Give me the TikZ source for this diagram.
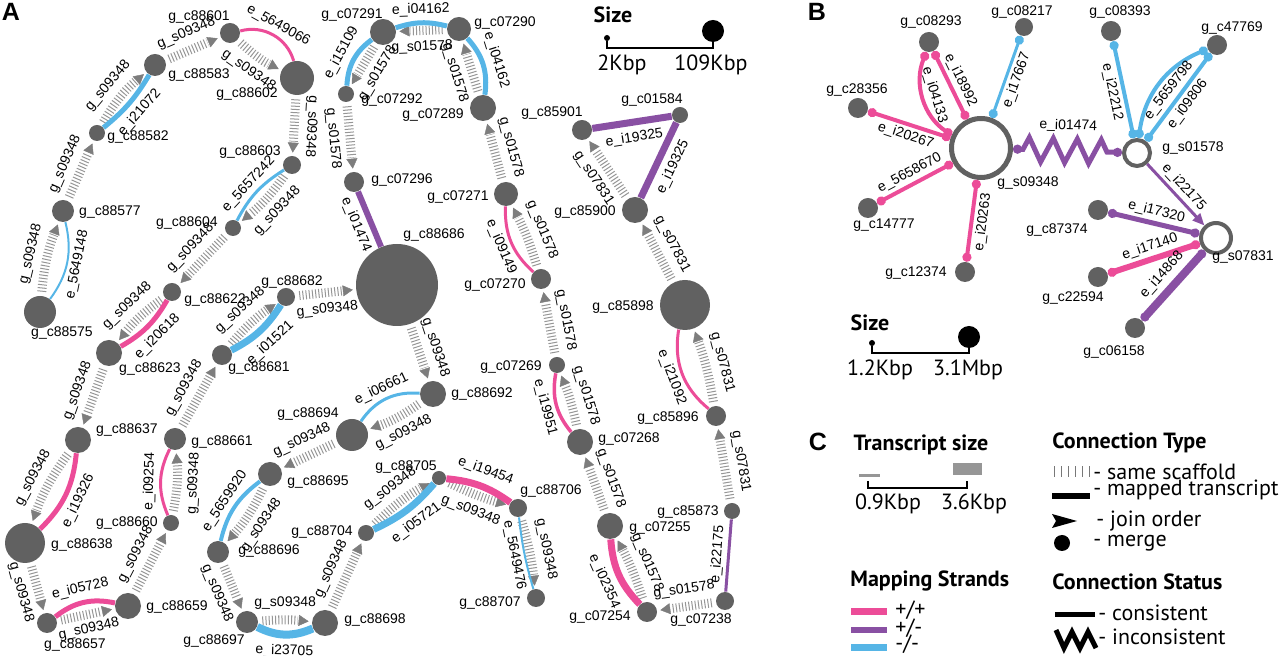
\documentclass[tikz,border=0pt]{standalone}
\usepackage{fontspec}
\setmainfont{Liberation Sans}
\newfontfamily\legfont{PT Sans}
\usetikzlibrary{arrows.meta,decorations.markings,decorations.pathmorphing}
\definecolor{nodegray}{RGB}{97,97,97}
\definecolor{hatchgray}{RGB}{150,150,150}
\definecolor{tipgray}{RGB}{125,125,125}
\definecolor{pinkc}{RGB}{236,76,152}
\definecolor{purplec}{RGB}{137,80,163}
\definecolor{bluec}{RGB}{86,181,230}
\tikzset{
  gn/.style={circle,fill=nodegray,inner sep=0pt,minimum size=#1},
  hn/.style={circle,draw=nodegray,fill=white,inner sep=0pt,minimum size=#1},
  lab/.style={font=\fontsize{7}{8}\selectfont,inner sep=0pt},
  scaf/.style={draw=hatchgray,line width=4.5pt,dash pattern=on 0.5pt off 1.1pt,shorten <=2pt,shorten >=7pt,
    postaction={decorate,decoration={markings,mark=at position -1.5pt with {\arrow[tipgray,solid,line width=0.2pt]{Triangle[length=5pt,width=5.5pt]}}}}},
  sa/.style={lab,sloped,above=3pt},
  sb/.style={lab,sloped,below=3pt},
  ta/.style={lab,sloped,above=#1}, ta/.default=1.5pt,
  tb/.style={lab,sloped,below=#1}, tb/.default=1.5pt,
  pk/.style={draw=pinkc},
  pu/.style={draw=purplec},
  bl/.style={draw=bluec},
  mg/.style={arrows={Circle[length=4.5pt]-Circle[length=4.5pt]}},
  leg/.style={font=\legfont\fontsize{11}{12}\selectfont,inner sep=0pt},
  legb/.style={font=\legfont\bfseries\fontsize{11}{12}\selectfont,inner sep=0pt},
  letter/.style={font=\bfseries\fontsize{12.5}{13}\selectfont,inner sep=0pt}
}
\begin{document}
\begin{tikzpicture}[x=0.5pt,y=-0.5pt]
\useasboundingbox (0,0) rectangle (1280,656);
\node[letter] at (11,12) (pA) {A};
\node[letter] at (817,12) (pB) {B};
\node[letter] at (818,442) (pC) {C};

% panel A, scaffold g_s09348
\node[gn=10pt] at (230,33) (c88601) {};
\node[gn=11pt] at (155,65) (c88583) {};
\node[gn=17pt] at (297,78) (c88602) {};
\node[gn=8pt] at (97,133) (c88582) {};
\node[gn=9pt] at (292,165) (c88603) {};
\node[gn=11pt] at (63,211) (c88577) {};
\node[gn=8pt] at (233,228) (c88604) {};
\node[gn=16pt] at (40,312) (c88575) {};
\node[gn=9pt] at (172,292) (c88622) {};
\node[gn=9pt] at (286,297) (c88682) {};
\node[gn=41pt] at (397,285) (c88686) {};
\node[gn=13pt] at (109,353) (c88623) {};
\node[gn=10pt] at (222,355) (c88681) {};
\node[gn=13pt] at (78,440) (c88637) {};
\node[gn=11pt] at (175,439) (c88661) {};
\node[gn=13pt] at (433,394) (c88692) {};
\node[gn=16pt] at (352,435) (c88694) {};
\node[gn=12pt] at (270,474) (c88695) {};
\node[gn=8pt] at (171,523) (c88660) {};
\node[gn=20pt] at (25,543) (c88638) {};
\node[gn=11pt] at (218,552) (c88696) {};
\node[gn=7pt] at (439,478) (c88705) {};
\node[gn=9pt] at (518,508) (c88706) {};
\node[gn=8pt] at (366,533) (c88704) {};
\node[gn=10pt] at (47,623) (c88657) {};
\node[gn=13pt] at (128,606) (c88659) {};
\node[gn=11pt] at (247,622) (c88697) {};
\node[gn=13pt] at (325,623) (c88698) {};
\node[gn=9pt] at (536,598) (c88707) {};

% panel A, scaffolds g_s01578 and g_s07831
\node[gn=13pt] at (383,32) (c07291) {};
\node[gn=12pt] at (459,29) (c07290) {};
\node[gn=8pt] at (346,94) (c07292) {};
\node[gn=13pt] at (483,108) (c07289) {};
\node[gn=10pt] at (354,182) (c07296) {};
\node[gn=12pt] at (506,194) (c07271) {};
\node[gn=10pt] at (541,279) (c07270) {};
\node[gn=8pt] at (557,365) (c07269) {};
\node[gn=13pt] at (580,442) (c07268) {};
\node[gn=13pt] at (610,526) (c07255) {};
\node[gn=10pt] at (647,612) (c07254) {};
\node[gn=9pt] at (725,601) (c07238) {};
\node[gn=10pt] at (582,130) (c85901) {};
\node[gn=8pt] at (680,115) (c01584) {};
\node[gn=13pt] at (635,210) (c85900) {};
\node[gn=25pt] at (685,305) (c85898) {};
\node[gn=10pt] at (716,416) (c85896) {};
\node[gn=8pt] at (732,511) (c85873) {};

\node[lab] at (199,17) (l88601) {g\_c88601};
\node[lab] at (199,75) (l88583) {g\_c88583};
\node[lab] at (247,94) (l88602) {g\_c88602};
\node[lab] at (138,137) (l88582) {g\_c88582};
\node[lab] at (250,152) (l88603) {g\_c88603};
\node[lab] at (110,212) (l88577) {g\_c88577};
\node[lab] at (187,223) (l88604) {g\_c88604};
\node[lab] at (62,333) (l88575) {g\_c88575};
\node[lab] at (215,300) (l88622) {g\_c88622};
\node[lab] at (292,282) (l88682) {g\_c88682};
\node[lab] at (434,235) (l88686) {g\_c88686};
\node[lab] at (150,369) (l88623) {g\_c88623};
\node[lab] at (259,368) (l88681) {g\_c88681};
\node[lab] at (127,430) (l88637) {g\_c88637};
\node[lab] at (222,442) (l88661) {g\_c88661};
\node[lab] at (482,394) (l88692) {g\_c88692};
\node[lab] at (308,414) (l88694) {g\_c88694};
\node[lab] at (318,482) (l88695) {g\_c88695};
\node[lab] at (127,523) (l88660) {g\_c88660};
\node[lab] at (82,545) (l88638) {g\_c88638};
\node[lab] at (269,551) (l88696) {g\_c88696};
\node[lab] at (406,467) (l88705) {g\_c88705};
\node[lab] at (551,491) (l88706) {g\_c88706};
\node[lab] at (322,532) (l88704) {g\_c88704};
\node[lab] at (75,645) (l88657) {g\_c88657};
\node[lab] at (177,607) (l88659) {g\_c88659};
\node[lab] at (214,641) (l88697) {g\_c88697};
\node[lab] at (375,620) (l88698) {g\_c88698};
\node[lab] at (490,603) (l88707) {g\_c88707};
\node[lab] at (352,15) (l07291) {g\_c07291};
\node[lab] at (505,23) (l07290) {g\_c07290};
\node[lab] at (392,100) (l07292) {g\_c07292};
\node[lab] at (433,115) (l07289) {g\_c07289};
\node[lab] at (402,180) (l07296) {g\_c07296};
\node[lab] at (458,197) (l07271) {g\_c07271};
\node[lab] at (495,285) (l07270) {g\_c07270};
\node[lab] at (511,367) (l07269) {g\_c07269};
\node[lab] at (629,439) (l07268) {g\_c07268};
\node[lab] at (660,528) (l07255) {g\_c07255};
\node[lab] at (600,617) (l07254) {g\_c07254};
\node[lab] at (701,620) (l07238) {g\_c07238};
\node[lab] at (552,113) (l85901) {g\_c85901};
\node[lab] at (652,100) (l01584) {g\_c01584};
\node[lab] at (585,212) (l85900) {g\_c85900};
\node[lab] at (623,307) (l85898) {g\_c85898};
\node[lab] at (668,418) (l85896) {g\_c85896};
\node[lab] at (688,512) (l85873) {g\_c85873};

\draw[scaf] (c88575) to[bend left=8] node[sa]{g\_s09348} (c88577);
\draw[bl,line width=1pt] (c88575) to[bend right=25] node[tb]{e\_5649148} (c88577);
\draw[scaf] (c88577) -- node[sa]{g\_s09348} (c88582);
\draw[scaf] (c88582) to[bend left=10] node[sa]{g\_s09348} (c88583);
\draw[bl,line width=2.5pt] (c88582) to[bend right=10] node[tb=2.5pt]{e\_i21072} (c88583);
\draw[scaf] (c88583) -- node[sa]{g\_s09348} (c88601);
\draw[scaf] (c88601) to[bend right=8] node[sb]{g\_s09348} (c88602);
\draw[pk,line width=1.5pt] (c88601) to[bend left=45] node[ta]{e\_5649066} (c88602);
\draw[scaf] (c88602) -- node[sa,allow upside down]{g\_s09348} (c88603);
\draw[scaf] (c88603) to[bend left=8] node[sb]{g\_s09348} (c88604);
\draw[bl,line width=1.5pt] (c88603) to[bend right=15] node[ta]{e\_5657242} (c88604);
\draw[scaf] (c88604) -- node[sa]{g\_s09348} (c88622);
\draw[scaf] (c88622) to[bend right=8] node[sa]{g\_s09348} (c88623);
\draw[pk,line width=2.5pt] (c88622) to[bend left=15] node[tb=2.5pt]{e\_i20618} (c88623);
\draw[scaf] (c88623) -- node[sa]{g\_s09348} (c88637);
\draw[scaf] (c88637) to[bend right=8] node[sa]{g\_s09348} (c88638);
\draw[pk,line width=2.5pt] (c88637) to[bend left=20] node[tb=2.5pt]{e\_i19326} (c88638);
\draw[scaf] (c88638) -- node[sb]{g\_s09348} (c88657);
\draw[scaf] (c88657) -- node[lab,sloped,below=2pt]{g\_s09348} (c88659);
\draw[pk,line width=2.5pt] (c88657) to[bend left=25] node[ta=2.5pt]{e\_i05728} (c88659);
\draw[scaf] (c88659) -- node[sa]{g\_s09348} (c88660);
\draw[scaf] (c88660) to[bend right=8] node[sb]{g\_s09348} (c88661);
\draw[pk,line width=1.5pt] (c88660) to[bend left=25] node[ta]{e\_i09254} (c88661);
\draw[scaf] (c88661) -- node[sa]{g\_s09348} (c88681);
\draw[scaf] (c88681) to[bend left=8] node[sa]{g\_s09348} (c88682);
\draw[bl,line width=3.5pt] (c88681) to[bend right=15] node[tb=3pt]{e\_i01521} (c88682);
\draw[scaf] (c88682) -- node[sb]{g\_s09348} (c88686);
\draw[scaf] (c88686) -- node[sa]{g\_s09348} (c88692);
\draw[scaf] (c88692) to[bend left=8] node[sb]{g\_s09348} (c88694);
\draw[bl,line width=1.5pt] (c88692) to[bend right=30] node[ta]{e\_i06661} (c88694);
\draw[scaf] (c88694) -- node[sa]{g\_s09348} (c88695);
\draw[scaf] (c88695) to[bend left=8] node[sb]{g\_s09348} (c88696);
\draw[bl,line width=2pt] (c88695) to[bend right=20] node[ta]{e\_5659920} (c88696);
\draw[scaf] (c88696) -- node[sb]{g\_s09348} (c88697);
\draw[scaf] (c88697) to[bend left=5] node[sa]{g\_s09348} (c88698);
\draw[bl,line width=4pt] (c88697) to[bend right=25] node[tb=3pt]{e\_i23705} (c88698);
\draw[scaf] (c88698) -- node[sa]{g\_s09348} (c88704);
\draw[scaf] (c88704) to[bend left=8] node[sa]{g\_s09348} (c88705);
\draw[bl,line width=3.5pt] (c88704) to[bend right=12] node[tb=3pt]{e\_i05721} (c88705);
\draw[scaf] (c88705) to[bend right=5] node[sb]{g\_s09348} (c88706);
\draw[pk,line width=3.5pt] (c88705) to[bend left=15] node[ta=3pt]{e\_i19454} (c88706);
\draw[scaf] (c88706) to[bend left=5] node[sa]{g\_s09348} (c88707);
\draw[bl,line width=1pt] (c88706) to[bend right=5] node[tb]{e\_5649476} (c88707);

\draw[scaf] (c07290) -- node[sb]{g\_s01578} (c07291);
\draw[scaf] (c07291) -- node[sb]{g\_s01578} (c07292);
\draw[scaf] (c07292) -- node[sb]{g\_s01578} (c07296);
\draw[bl,line width=2.5pt] (c07292) to[bend left=25] node[ta=2.5pt]{e\_i15109} (c07291);
\draw[bl,line width=2.5pt] (c07291) to[bend left=16] node[ta=2pt]{e\_i04162} (c07290);
\draw[bl,line width=2.5pt] (c07290) to[bend left=25] node[ta=2.5pt]{e\_i04162} (c07289);
\draw[pu,line width=3pt] (c07296) -- node[tb=2.5pt]{e\_i01474} (c88686);
\draw[scaf] (c07289) -- node[sb]{g\_s01578} (c07290);
\draw[scaf] (c07271) -- node[sa]{g\_s01578} (c07289);
\draw[scaf] (c07270) to[bend right=5] node[sa]{g\_s01578} (c07271);
\draw[pk,line width=1.5pt] (c07270) to[bend left=25] node[tb]{e\_i09149} (c07271);
\draw[scaf] (c07269) -- node[sa]{g\_s01578} (c07270);
\draw[scaf] (c07268) to[bend right=5] node[sa]{g\_s01578} (c07269);
\draw[pk,line width=1.75pt] (c07268) to[bend left=25] node[tb]{e\_i19951} (c07269);
\draw[scaf] (c07255) -- node[sa]{g\_s01578} (c07268);
\draw[scaf] (c07254) to[bend right=5] node[sa]{g\_s01578} (c07255);
\draw[pk,line width=3.5pt] (c07254) to[bend left=20] node[tb=3pt]{e\_i02354} (c07255);
\draw[scaf] (c07238) -- node[sa]{g\_s01578} (c07254);
\draw[pu,line width=1.5pt] (c85873) -- node[ta]{e\_i22175} (c07238);

\draw[scaf] (c85873) -- node[sa]{g\_s07831} (c85896);
\draw[scaf] (c85896) to[bend right=5] node[sa]{g\_s07831} (c85898);
\draw[pk,line width=1.5pt] (c85896) to[bend left=30] node[tb]{e\_i21092} (c85898);
\draw[scaf] (c85898) -- node[sa]{g\_s07831} (c85900);
\draw[scaf] (c85900) -- node[sb]{g\_s07831} (c85901);
\draw[pu,line width=3.5pt] (c85901) -- node[tb=3pt]{e\_i19325} (c01584);
\draw[pu,line width=3.5pt] (c85900) -- node[tb=3pt]{e\_i19325} (c01584);

% size key, panel A
\node[legb] at (613,15) (sizeA) {Size};
\node[circle,fill=black,inner sep=0pt,minimum size=3pt] at (607,38) (kA1) {};
\node[circle,fill=black,inner sep=0pt,minimum size=11pt] at (713,31) (kA2) {};
\coordinate (kAm) at (660,48);
\draw[line width=1pt] (kA1) |- (kAm) -| (kA2);
\node[leg] at (622,65) (kA1t) {2Kbp};
\node[leg] at (711,65) (kA2t) {109Kbp};

% panel B
\node[hn=29.5pt,line width=2.5pt] at (981,148) (s09348) {};
\node[hn=13pt,line width=2pt] at (1137,153) (s01578) {};
\node[hn=15pt,line width=2pt] at (1216,238) (s07831) {};
\node[gn=10pt] at (929,42) (c08293) {};
\node[gn=9pt] at (1024,27) (c08217) {};
\node[gn=10pt] at (858,108) (c28356) {};
\node[gn=10pt] at (868,208) (c14777) {};
\node[gn=10pt] at (965,272) (c12374) {};
\node[gn=10pt] at (1111,31) (c08393) {};
\node[gn=10pt] at (1217,45) (c47769) {};
\node[gn=10pt] at (1098,210) (c87374) {};
\node[gn=10pt] at (1098,277) (c22594) {};
\node[gn=10pt] at (1135,328) (c06158) {};
\node[lab] at (1028,183) (ls09348) {g\_s09348};
\node[lab] at (1193,148) (ls01578) {g\_s01578};
\node[lab] at (1243,257) (ls07831) {g\_s07831};
\node[lab] at (931,22) (l08293) {g\_c08293};
\node[lab] at (1022,12) (l08217) {g\_c08217};
\node[lab] at (857,90) (l28356) {g\_c28356};
\node[lab] at (884,225) (l14777) {g\_c14777};
\node[lab] at (916,273) (l12374) {g\_c12374};
\node[lab] at (1120,12) (l08393) {g\_c08393};
\node[lab] at (1232,28) (l47769) {g\_c47769};
\node[lab] at (1057,230) (l87374) {g\_c87374};
\node[lab] at (1073,298) (l22594) {g\_c22594};
\node[lab] at (1114,352) (l06158) {g\_c06158};

\draw[pk,line width=2pt,mg] (c08293) -- node[ta]{e\_i18992} (s09348);
\draw[pk,line width=2pt,mg] (c08293) to[bend right=40] node[ta]{e\_i04133} (s09348);
\draw[pk,line width=2pt,mg] (c28356) -- node[tb]{e\_i20267} (s09348);
\draw[pk,line width=2pt,mg] (c14777) -- node[ta]{e\_5658670} (s09348);
\draw[pk,line width=2pt,mg] (c12374) -- node[tb]{e\_i20263} (s09348);
\draw[bl,line width=1.5pt,mg] (c08217) -- node[tb]{e\_i17667} (s09348);
\draw[pu,line width=2.5pt,mg,decorate,decoration={zigzag,segment length=12pt,amplitude=6pt,pre length=5pt,post length=5pt}] (s09348) -- node[ta=8pt]{e\_i01474} (s01578);
\draw[bl,line width=2pt,mg] (c08393) -- node[tb]{e\_i22212} (s01578);
\draw[bl,line width=2pt,mg] (s01578) to[bend left=30] node[tb]{e\_5659798} (c47769);
\draw[bl,line width=2pt,mg] (s01578) -- node[tb]{e\_i09806} (c47769);
\draw[pu,line width=1.5pt,-{Triangle[length=6pt,width=5pt]}] (s01578) -- node[ta]{e\_i22175} (s07831);
\draw[pu,line width=2.5pt,mg] (c87374) -- node[ta]{e\_i17320} (s07831);
\draw[pk,line width=3pt,mg] (c22594) -- node[ta]{e\_i17140} (s07831);
\draw[pu,line width=4pt,mg] (c06158) -- node[ta=2.5pt]{e\_i14868} (s07831);

% size key, panel B
\node[legb] at (870,323) (sizeB) {Size};
\node[circle,fill=black,inner sep=0pt,minimum size=3pt] at (872,343) (kB1) {};
\node[circle,fill=black,inner sep=0pt,minimum size=11pt] at (969,337) (kB2) {};
\coordinate (kBm) at (920,353);
\draw[line width=1pt] (kB1) |- (kBm) -| (kB2);
\node[leg] at (880,370) (kB1t) {1.2Kbp};
\node[leg] at (968,370) (kB2t) {3.1Mbp};

% panel C
\node[legb] at (921,445) (trs) {Transcript size};
\fill[hatchgray] (859,474) rectangle (880,477);
\fill[hatchgray] (953,463) rectangle (982,475);
\draw[line width=1pt] (868,481) |- (967,488) -- (967,481);
\node[leg] at (888,504) (trs1) {0.9Kbp};
\node[leg] at (974,504) (trs2) {3.6Kbp};

\node[legb,anchor=west] at (1052,443) (ctype) {Connection Type};
\draw[hatchgray!80!black,line width=5.5pt,dash pattern=on 0.6pt off 2.9pt] (1054,472) -- (1090,472);
\node[leg,anchor=west] at (1093,472) (ct1) {- same scaffold};
\fill[black] (1052,493) rectangle (1090,499);
\node[leg,anchor=west] at (1093,490) (ct2) {- mapped transcript};
\fill[black] (1052,514) -- (1077,521) -- (1052,528) -- (1056,521) -- cycle;
\node[leg,anchor=west] at (1096,521) (ct3) {- join order};
\fill[black] (1062,543) circle (4pt);
\node[leg,anchor=west] at (1093,543) (ct4) {- merge};

\node[legb,anchor=west] at (850,581) (mstr) {Mapping Strands};
\fill[pinkc] (851,608) rectangle (887,615);
\node[leg,anchor=west] at (895,610) (ms1) {+/+};
\fill[purplec] (851,627) rectangle (887,633);
\node[leg,anchor=west] at (895,628) (ms2) {+/-};
\fill[bluec] (851,644) rectangle (887,651);
\node[leg,anchor=west] at (895,644) (ms3) {-/-};

\node[legb,anchor=west] at (1052,582) (cstat) {Connection Status};
\fill[black] (1055,612) rectangle (1095,617);
\node[leg,anchor=west] at (1098,613) (cs1) {- consistent};
\draw[line width=2.5pt,line join=miter] (1056,630) -- (1064,648) -- (1072,632) -- (1080,648) -- (1088,632) -- (1096,648);
\node[leg,anchor=west] at (1098,637) (cs2) {- inconsistent};
\end{tikzpicture}
\end{document}
